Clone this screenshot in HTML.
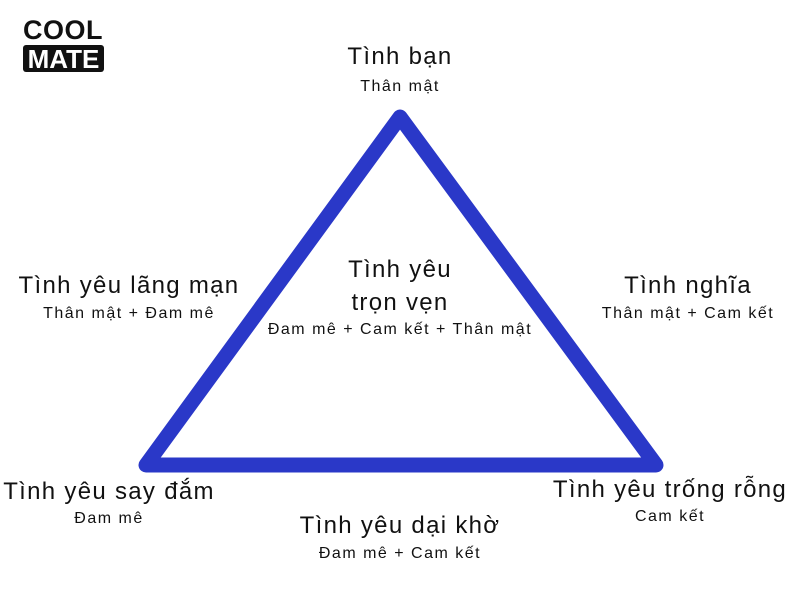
<!DOCTYPE html>
<html><head><meta charset="utf-8"><style>
body{margin:0;width:800px;height:600px;background:#fff;position:relative;overflow:hidden;font-family:"Liberation Sans","DejaVu Sans",sans-serif;color:#111}
.t{position:absolute;text-align:center;font-size:24px;line-height:26px;letter-spacing:1.3px;white-space:nowrap;transform:translateX(-50%)}
.s{position:absolute;text-align:center;font-size:16px;line-height:18px;letter-spacing:1.5px;white-space:nowrap;transform:translateX(-50%)}
</style></head><body>
<div style="position:absolute;left:23px;top:16px;font-weight:bold;font-size:27px;line-height:28px;letter-spacing:0.5px">COOL</div>
<div style="position:absolute;left:23px;top:45px;width:81px;height:27px;background:#111;border-radius:3px;color:#fff;font-weight:bold;font-size:26px;line-height:28px;text-align:center">MATE</div>
<svg width="800" height="600" style="position:absolute;left:0;top:0">
<polygon points="400,117 146,465 656,465" fill="none" stroke="#2a38c8" stroke-width="15" stroke-linejoin="round"/>
</svg>
<div class="t" style="left:400px;top:44px">Tình bạn</div>
<div class="s" style="left:400px;top:78px">Thân mật</div>
<div class="t" style="left:400px;top:257px">Tình yêu</div>
<div class="t" style="left:400px;top:290px">trọn vẹn</div>
<div class="s" style="left:400px;top:321px">Đam mê + Cam kết + Thân mật</div>
<div class="t" style="left:129px;top:273px">Tình yêu lãng mạn</div>
<div class="s" style="left:129px;top:305px">Thân mật + Đam mê</div>
<div class="t" style="left:688px;top:273px">Tình nghĩa</div>
<div class="s" style="left:688px;top:305px">Thân mật + Cam kết</div>
<div class="t" style="left:109px;top:479px">Tình yêu say đắm</div>
<div class="s" style="left:109px;top:510px">Đam mê</div>
<div class="t" style="left:670px;top:477px">Tình yêu trống rỗng</div>
<div class="s" style="left:670px;top:508px">Cam kết</div>
<div class="t" style="left:400px;top:513px">Tình yêu dại khờ</div>
<div class="s" style="left:400px;top:545px">Đam mê + Cam kết</div>
</body></html>
